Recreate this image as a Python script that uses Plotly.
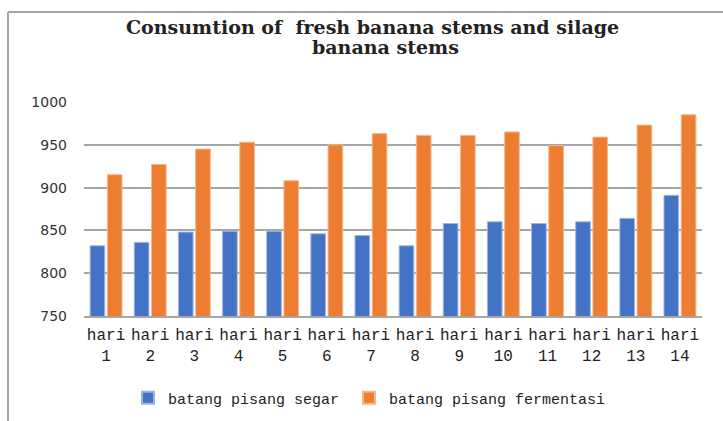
import plotly.graph_objects as go

days = ["hari<br>%d" % i for i in range(1, 15)]
segar = [832, 836, 848, 849, 849, 846, 844, 832, 858, 860, 858, 860, 864, 891]
fermentasi = [915, 927, 945, 953, 908, 950, 963, 961, 961, 965, 949, 959, 973, 985]
y_ticks = [750, 800, 850, 900, 950, 1000]

W, H = 723, 421

# pixel -> paper helpers (plot area: x 84..702, y 102..316)
def px(x):
    return (x - 84) / 618

def py(y):
    return (316 - y) / 214

fig = go.Figure()
fig.add_trace(go.Bar(x=days, y=segar, name="batang pisang segar", legend="legend",
                     marker=dict(color="#4472C4", line=dict(color="#9db4e0", width=1))))
fig.add_trace(go.Bar(x=days, y=fermentasi, name="batang pisang fermentasi", legend="legend2",
                     marker=dict(color="#ED7D31", line=dict(color="#f6b58a", width=1))))

legfont = dict(family="Liberation Mono", size=15, color="#222")
fig.update_layout(
    width=W, height=H,
    margin=dict(l=84, r=21, t=102, b=105, autoexpand=False),
    paper_bgcolor="white", plot_bgcolor="white",
    barmode="group", bargap=0.22, bargroupgap=0.15,
    showlegend=True,
    legend=dict(orientation="h", xref="container", yref="container",
                x=128 / W, xanchor="left", y=1 - 398 / H, yanchor="middle",
                font=legfont, itemsizing="constant", bgcolor="rgba(0,0,0,0)"),
    legend2=dict(orientation="h", xref="container", yref="container",
                 x=349 / W, xanchor="left", y=1 - 398 / H, yanchor="middle",
                 font=legfont, itemsizing="constant", bgcolor="rgba(0,0,0,0)"),
    xaxis=dict(tickfont=dict(family="Liberation Mono", size=16, color="#222"),
               showline=True, linecolor="#a6a6a6", linewidth=1.5, ticks="",
               showgrid=False, ticklabelstandoff=3),
    yaxis=dict(range=[750, 1000], tickvals=y_ticks, tickfont=dict(family="DejaVu Sans", size=14, color="#333"),
               showgrid=True, gridcolor="#a6a6a6", gridwidth=1.5, zeroline=False,
               showline=False, ticks="", ticklabelstandoff=16),
    annotations=[
        dict(text="<b>Consumtion of  fresh banana stems and silage</b>",
             x=px(372), y=py(27), xref="paper", yref="paper",
             xanchor="center", yanchor="middle", showarrow=False,
             font=dict(family="DejaVu Serif", size=19, color="#222")),
        dict(text="<b>banana stems</b>",
             x=px(385), y=py(47), xref="paper", yref="paper",
             xanchor="center", yanchor="middle", showarrow=False,
             font=dict(family="DejaVu Serif", size=19, color="#222")),
    ],
    shapes=[
        dict(type="line", xref="paper", yref="paper", x0=px(8), x1=px(723), y0=py(12), y1=py(12),
             line=dict(color="#a6a6a6", width=2)),
        dict(type="line", xref="paper", yref="paper", x0=px(8), x1=px(8), y0=py(12), y1=py(425),
             line=dict(color="#a6a6a6", width=2)),
    ],
)

fig.write_html("out.html", config={"displayModeBar": False},
               post_script="document.body.style.margin='0';document.body.style.overflow='hidden';")
